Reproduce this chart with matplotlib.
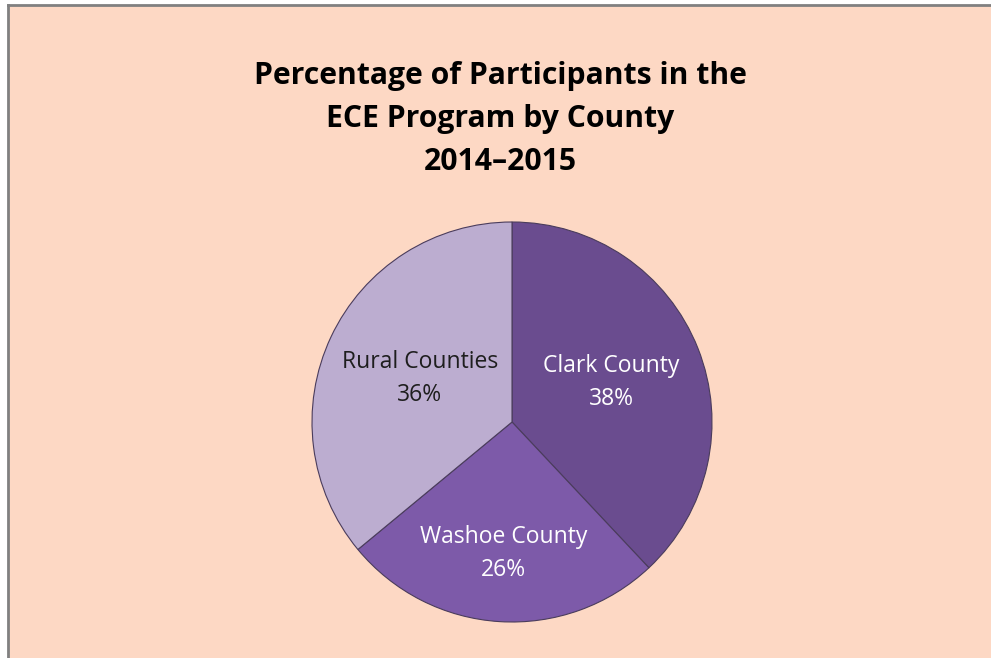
import matplotlib.pyplot as plt
import numpy as np

# data
labels = ['Clark County', 'Washoe County', 'Rural Counties']
percents = [38, 26, 36]
colors = ['#6a4c8f', '#7d5aa9', '#bcadd0']
text_colors = ['white', 'white', '#1e1e1e']
label_dist = [0.535, 0.66, 0.51]

W, H = 991, 658
fig = plt.figure(figsize=(W / 100, H / 100), dpi=100)
fig.patch.set_facecolor('white')

# peach panel with grey top/left border
panel = fig.add_axes([8 / W, 0, 983 / W, 653 / H])
panel.set_facecolor('#fdd8c4')
panel.set_xticks([])
panel.set_yticks([])
for side in ['right', 'bottom']:
    panel.spines[side].set_visible(False)
for side in ['top', 'left']:
    panel.spines[side].set_color('#808080')
    panel.spines[side].set_linewidth(2)

ax = fig.add_axes([0, 0, 1, 1])
cx, cy, r = 512, H - 422, 200
wedges, _ = ax.pie(percents, colors=colors, startangle=90, counterclock=False,
                   center=(cx, cy), radius=r, frame=True,
                   wedgeprops=dict(edgecolor='#4a3c5c', linewidth=0.8))
ax.set_xlim(0, W)
ax.set_ylim(0, H)
ax.set_aspect('equal')
ax.axis('off')

for w, lab, p, d, tc in zip(wedges, labels, percents, label_dist, text_colors):
    ang = np.deg2rad((w.theta1 + w.theta2) / 2)
    x = cx + d * r * np.cos(ang)
    y = cy + d * r * np.sin(ang)
    ax.text(x, y, f'{lab}\n{p}%', ha='center', va='center', color=tc,
            fontsize=16.5, family='Open Sans', linespacing=1.5)

fig.text(0.505, 1 - 119 / H, 'Percentage of Participants in the\nECE Program by County\n2014\u20132015',
         ha='center', va='center', fontsize=21.7, fontweight='bold', family='Open Sans',
         linespacing=1.58)

fig.savefig('out.png', dpi=100)
